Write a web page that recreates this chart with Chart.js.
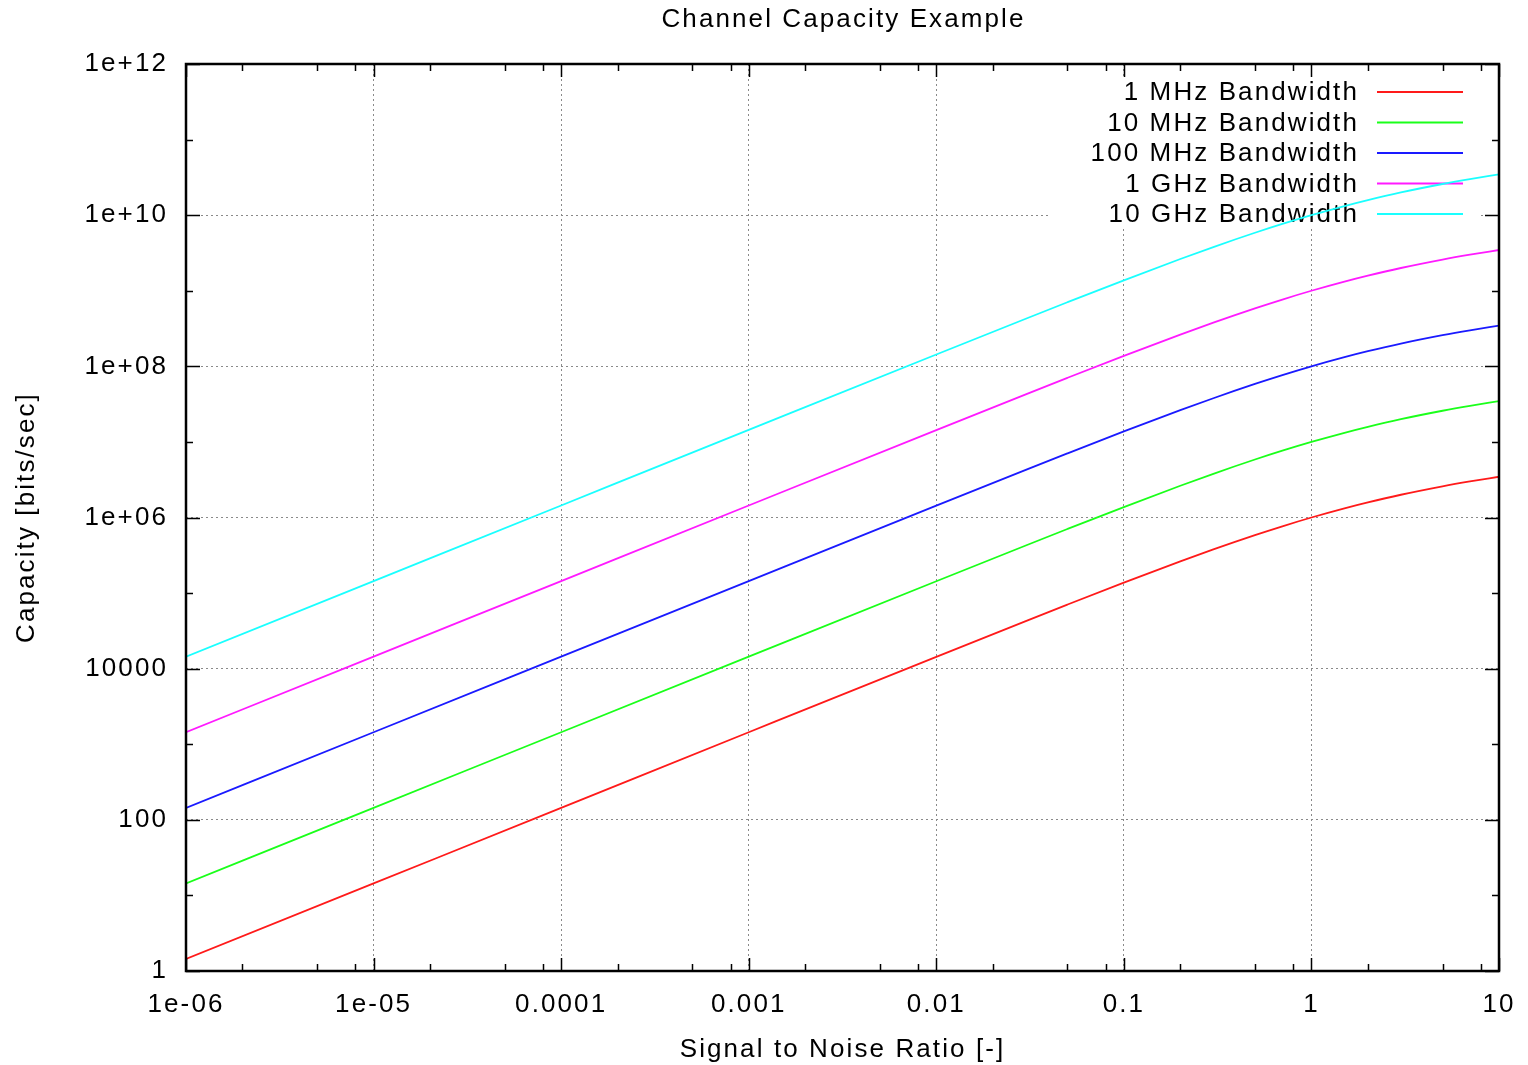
<!DOCTYPE html>
<html>
<head>
<meta charset="utf-8">
<title>Channel Capacity Example</title>
<script src="https://cdn.jsdelivr.net/npm/chart.js@4.4.1/dist/chart.umd.min.js"></script>
<style>
    html, body { margin: 0; padding: 0; background: #ffffff; }
    #wrap { width: 1528px; height: 1065px; }
</style>
</head>
<body>
<div id="wrap"><canvas id="chartCapacidad"></canvas></div>
<script>
// Datos (SNR vs capacidad)
const snr = [1e-6, 1e-5, 1e-4, 1e-3, 1e-2, 0.03, 0.05, 0.1, 0.2, 0.3, 0.5, 0.7, 1, 1.5, 2, 3, 5, 7, 10];

const cap1MHz   = [1.44, 14.4, 144, 1442, 14355, 42644, 70389, 137504, 263034, 378512, 584963, 765535, 1000000, 1321928, 1584963, 2000000, 2584963, 3000000, 3459432];
const cap10MHz  = [14.4, 144, 1443, 14420, 143550, 426440, 703890, 1375040, 2630340, 3785120, 5849630, 7655350, 10000000, 13219280, 15849630, 20000000, 25849630, 30000000, 34594320];
const cap100MHz = [144, 1443, 14427, 144200, 1435500, 4264400, 7038900, 13750400, 26303400, 37851200, 58496300, 76553500, 100000000, 132192800, 158496300, 200000000, 258496300, 300000000, 345943200];
const cap1GHz   = [1443, 14427, 144270, 1442000, 14355000, 42644000, 70389000, 137504000, 263034000, 378512000, 584963000, 765535000, 1000000000, 1321928000, 1584963000, 2000000000, 2584963000, 3000000000, 3459432000];
const cap10GHz  = [14427, 144270, 1442700, 14420000, 143550000, 426440000, 703890000, 1375040000, 2630340000, 3785120000, 5849630000, 7655350000, 10000000000, 13219280000, 15849630000, 20000000000, 25849630000, 30000000000, 34594320000];

const seriesNames = ['1 MHz Bandwidth', '10 MHz Bandwidth', '100 MHz Bandwidth', '1 GHz Bandwidth', '10 GHz Bandwidth'];
const seriesColors = ['#ff1a1a', '#1aff1a', '#1a1aff', '#ff1aff', '#1affff'];

const xTicks = [1e-6, 1e-5, 1e-4, 1e-3, 1e-2, 0.1, 1, 10];
const xTickLabels = ['1e-06', '1e-05', '0.0001', '0.001', '0.01', '0.1', '1', '10'];
const yTicks = [1, 1e2, 1e4, 1e6, 1e8, 1e10, 1e12];
const yTickLabels = ['1', '100', '10000', '1e+06', '1e+08', '1e+10', '1e+12'];
const yMinorTicks = [1e1, 1e3, 1e5, 1e7, 1e9, 1e11];

const FONT = "'Liberation Sans', Arial, sans-serif";
const SPACING = '2.1px';

function puntos(valores) {
    return snr.map((x, i) => ({ x: x, y: valores[i] }));
}

// Espaciado de letras tipo gnuplot + título centrado sobre el área del gráfico
const espaciado = {
    id: 'espaciado',
    beforeDraw(chart) {
        chart.ctx.letterSpacing = SPACING;
    },
    afterDraw(chart) {
        const ctx = chart.ctx;
        const a = chart.chartArea;
        ctx.save();
        ctx.font = '26px ' + FONT;
        ctx.letterSpacing = SPACING;
        ctx.fillStyle = '#000000';
        ctx.textAlign = 'center';
        ctx.textBaseline = 'middle';
        ctx.fillText('Channel Capacity Example', (a.left + a.right) / 2 + 1, 20);
        ctx.restore();
    }
};

// Leyenda opaca (debajo de las curvas)
const leyenda = {
    id: 'leyenda',
    beforeDatasetsDraw(chart) {
        const ctx = chart.ctx;
        ctx.save();
        ctx.fillStyle = '#ffffff';
        ctx.fillRect(1051, 77, 430, 151);
        ctx.font = '26px ' + FONT;
        ctx.letterSpacing = SPACING;
        ctx.textAlign = 'right';
        ctx.textBaseline = 'middle';
        seriesNames.forEach((name, i) => {
            const y = 92 + i * 30.5;
            ctx.fillStyle = '#000000';
            ctx.fillText(name, 1359, y + 1);
            ctx.strokeStyle = seriesColors[i];
            ctx.lineWidth = 1.8;
            ctx.beginPath();
            ctx.moveTo(1377, y);
            ctx.lineTo(1463, y);
            ctx.stroke();
        });
        ctx.restore();
    }
};

// Marco y marcas hacia dentro (estilo gnuplot)
const marco = {
    id: 'marco',
    afterDraw(chart) {
        const ctx = chart.ctx;
        const a = chart.chartArea;
        const xs = chart.scales.x;
        const ys = chart.scales.y;
        ctx.save();
        ctx.strokeStyle = '#000000';
        ctx.setLineDash([]);
        ctx.lineWidth = 1.5;
        ctx.beginPath();
        const marca = (x1, y1, x2, y2) => { ctx.moveTo(x1, y1); ctx.lineTo(x2, y2); };
        xTicks.forEach(v => {
            const px = Math.round(xs.getPixelForValue(v)) + 0.5;
            marca(px, a.bottom, px, a.bottom - 13);
            marca(px, a.top, px, a.top + 13);
        });
        xTicks.slice(0, -1).forEach(v => {
            [2, 5, 8].forEach(m => {
                const px = Math.round(xs.getPixelForValue(v * m)) + 0.5;
                marca(px, a.bottom, px, a.bottom - 7);
                marca(px, a.top, px, a.top + 7);
            });
        });
        yTicks.forEach(v => {
            const py = Math.round(ys.getPixelForValue(v)) + 0.5;
            marca(a.left, py, a.left + 14, py);
            marca(a.right, py, a.right - 14, py);
        });
        yMinorTicks.forEach(v => {
            const py = Math.round(ys.getPixelForValue(v)) + 0.5;
            marca(a.left, py, a.left + 7, py);
            marca(a.right, py, a.right - 7, py);
        });
        ctx.stroke();
        ctx.lineWidth = 2.5;
        ctx.strokeRect(a.left, a.top, a.right - a.left, a.bottom - a.top);
        ctx.restore();
    }
};

document.addEventListener('DOMContentLoaded', function () {
    const ctx = document.getElementById('chartCapacidad').getContext('2d');
    const todas = [cap1MHz, cap10MHz, cap100MHz, cap1GHz, cap10GHz];

    new Chart(ctx, {
        type: 'scatter',
        data: {
            datasets: todas.map((vals, i) => ({
                label: seriesNames[i],
                data: puntos(vals),
                showLine: true,
                borderColor: seriesColors[i],
                borderWidth: 1.8,
                pointRadius: 0,
                cubicInterpolationMode: 'monotone',
                fill: false
            }))
        },
        options: {
            responsive: true,
            maintainAspectRatio: false,
            animation: false,
            layout: { padding: { left: 0, right: 29, top: 64, bottom: 0 } },
            plugins: {
                legend: { display: false },
                tooltip: { enabled: false },
                title: { display: false }
            },
            scales: {
                x: {
                    type: 'logarithmic',
                    min: 1e-6,
                    max: 10,
                    afterBuildTicks: s => { s.ticks = xTicks.map(v => ({ value: v })); },
                    afterFit: s => { s.height = 94; s.paddingLeft = 0; s.paddingRight = 0; },
                    ticks: {
                        color: '#000000',
                        font: { family: FONT, size: 26 },
                        padding: 18,
                        maxRotation: 0,
                        autoSkip: false,
                        callback: (v, i) => xTickLabels[i]
                    },
                    grid: { color: '#8a8a8a', lineWidth: 1, drawTicks: false },
                    border: { display: false, dash: [2, 3] },
                    title: {
                        display: true,
                        text: 'Signal to Noise Ratio [-]',
                        color: '#000000',
                        font: { family: FONT, size: 26, lineHeight: 1.2 },
                        padding: { top: 0, bottom: 0 }
                    }
                },
                y: {
                    type: 'logarithmic',
                    min: 1,
                    max: 1e12,
                    afterBuildTicks: s => { s.ticks = yTicks.map(v => ({ value: v })); },
                    afterFit: s => { s.width = 186; s.paddingTop = 0; s.paddingBottom = 0; },
                    ticks: {
                        color: '#000000',
                        font: { family: FONT, size: 26 },
                        padding: 18,
                        autoSkip: false,
                        callback: (v, i) => yTickLabels[i]
                    },
                    grid: { color: '#8a8a8a', lineWidth: 1, drawTicks: false },
                    border: { display: false, dash: [2, 3] },
                    title: {
                        display: true,
                        text: 'Capacity [bits/sec]',
                        color: '#000000',
                        font: { family: FONT, size: 26, lineHeight: 1.2 },
                        padding: { top: 11, bottom: 0 }
                    }
                }
            }
        },
        plugins: [espaciado, leyenda, marco]
    });
});
</script>
</body>
</html>
